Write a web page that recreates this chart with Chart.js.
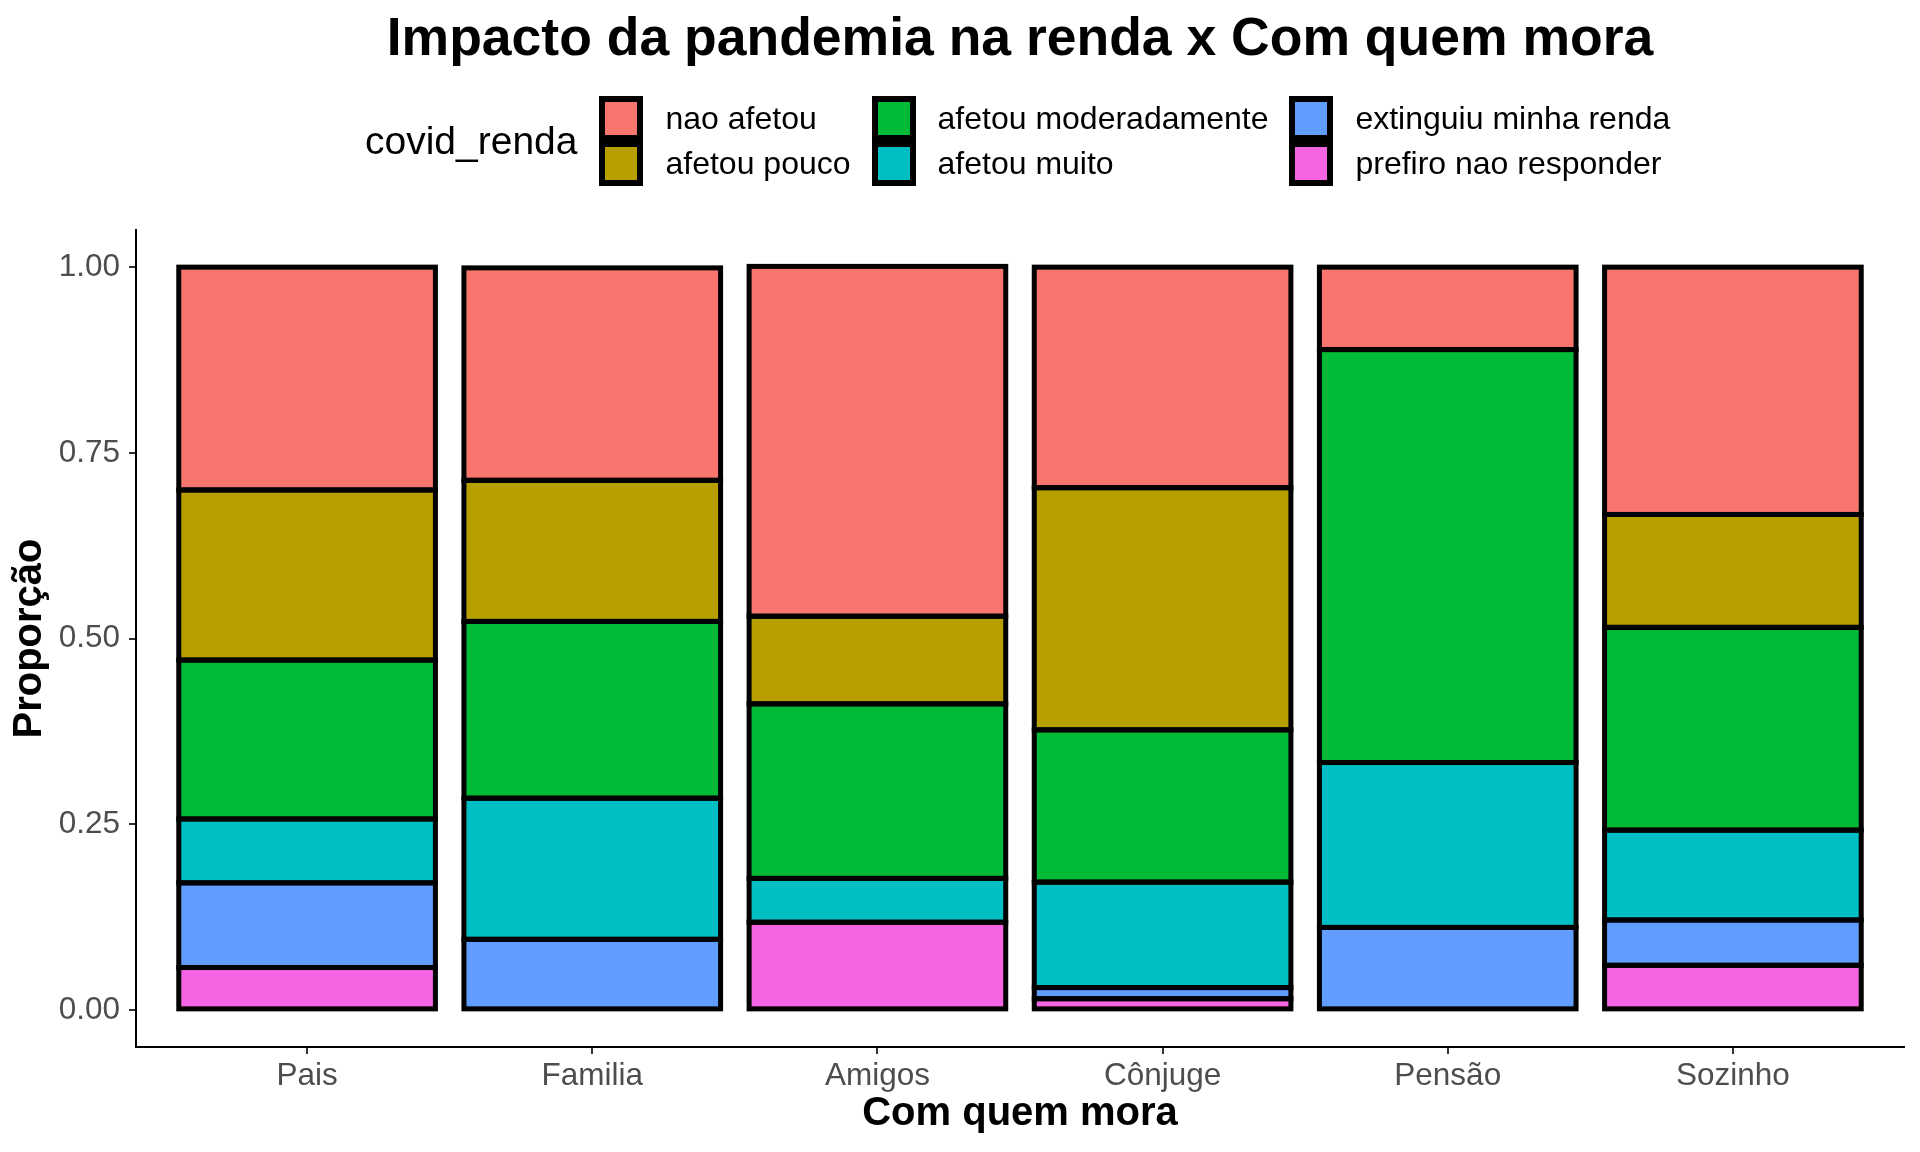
<!DOCTYPE html>
<html>
<head>
<meta charset="utf-8">
<script src="https://cdn.jsdelivr.net/npm/chart.js@4.4.1/dist/chart.umd.min.js"></script>
<style>
  body { margin: 0; background: #fff; }
  #wrap { position: relative; width: 1920px; height: 1152px; font-family: 'Liberation Sans', Arial, sans-serif; }
  #titulo { position: absolute; left: 136px; width: 1768px; top: 5px; text-align: center; font-size: 53.5px; font-weight: bold; line-height: 64px; color: #000; }
  #legenda { position: absolute; left: 365px; top: 96px; display: flex; align-items: center; }
  #legenda .tit { font-size: 39px; margin-right: 22px; color: #000; }
  #legenda .itens { display: grid; grid-template-rows: 45px 45px; grid-auto-flow: column; column-gap: 21px; }
  #legenda .item { display: flex; align-items: center; }
  #legenda .chave { width: 44px; height: 45px; box-sizing: border-box; border: 6px solid #000; }
  #legenda .rotulo { font-size: 32px; margin-left: 22px; color: #000; white-space: nowrap; }
</style>
</head>
<body>
<div id="wrap">
  <canvas id="grafico" width="1920" height="1152"></canvas>
  <div id="titulo">Impacto da pandemia na renda x Com quem mora</div>
  <div id="legenda">
    <div class="tit">covid_renda</div>
    <div class="itens" id="itens"></div>
  </div>
</div>
<script>
// === DADOS ===
const categorias = ['Pais', 'Familia', 'Amigos', 'Cônjuge', 'Pensão', 'Sozinho'];
const niveis = ['nao afetou', 'afetou pouco', 'afetou moderadamente', 'afetou muito', 'extinguiu minha renda', 'prefiro nao responder'];
const cores = ['#F8766D', '#B79F00', '#00BA38', '#00BFC4', '#619CFF', '#F564E3'];

const naoAfetou      = [0.300, 0.286, 0.471, 0.297, 0.111, 0.333];
const afetouPouco    = [0.229, 0.190, 0.118, 0.326, 0,     0.152];
const afetouModerado = [0.214, 0.238, 0.235, 0.205, 0.556, 0.273];
const afetouMuito    = [0.086, 0.190, 0.059, 0.142, 0.222, 0.121];
const extinguiu      = [0.114, 0.095, 0,     0.015, 0.111, 0.061];
const prefiroNao     = [0.057, 0,     0.118, 0.015, 0,     0.060];

const yTicks = [0, 0.25, 0.5, 0.75, 1];

const series = [naoAfetou, afetouPouco, afetouModerado, afetouMuito, extinguiu, prefiroNao];

// === LEGENDA (HTML, ordem por coluna como no ggplot) ===
const itens = document.getElementById('itens');
niveis.forEach((nome, i) => {
  const item = document.createElement('div');
  item.className = 'item';
  item.innerHTML = `<div class="chave" style="background:${cores[i]}"></div><div class="rotulo">${nome}</div>`;
  itens.appendChild(item);
});

// contorno preto centrado nas bordas, como geom_bar(color = 'black')
const contorno = {
  id: 'contorno',
  afterDatasetsDraw(chart) {
    const ctx = chart.ctx;
    ctx.save();
    ctx.strokeStyle = '#000';
    ctx.lineWidth = 5;
    chart.data.datasets.forEach((ds, d) => {
      chart.getDatasetMeta(d).data.forEach(el => {
        const p = el.getProps(['x', 'y', 'base', 'width'], true);
        const h = Math.abs(p.base - p.y);
        if (h < 0.5) return;
        ctx.strokeRect(p.x - p.width / 2, Math.min(p.y, p.base), p.width, h);
      });
    });
    ctx.restore();
  }
};

Chart.defaults.font.family = "'Liberation Sans', Arial, sans-serif";

// empilha de baixo pra cima: ultimo nivel embaixo
const datasets = niveis.map((nome, i) => ({
  label: nome,
  data: series[i].map((v, j) => ({ x: j, y: v })),
  backgroundColor: cores[i],
  borderWidth: 0
})).reverse();

new Chart(document.getElementById('grafico'), {
  type: 'bar',
  data: { datasets },
  plugins: [contorno],
  options: {
    responsive: false,
    animation: false,
    layout: { padding: { top: 230, right: 16, bottom: 0, left: 0 } },
    datasets: { bar: { categoryPercentage: 1, barPercentage: 0.9 } },
    plugins: {
      legend: { display: false },
      tooltip: { enabled: false },
      title: { display: false }
    },
    scales: {
      x: {
        type: 'linear',
        stacked: true,
        offset: false,
        min: -0.6,
        max: 5.6,
        afterBuildTicks: (axis) => { axis.ticks = categorias.map((_, i) => ({ value: i })); },
        afterFit: (axis) => { axis.height = 105; },
        ticks: {
          callback: (v) => categorias[v],
          color: '#4D4D4D',
          font: { size: 31.5 },
          padding: 3,
          maxRotation: 0
        },
        grid: { offset: false, drawOnChartArea: false, drawTicks: true, tickLength: 7, color: '#333', lineWidth: 2 },
        border: { display: true, color: '#000', width: 2 },
        title: { display: true, text: 'Com quem mora', color: '#000', font: { size: 40, weight: 'bold' }, padding: { top: 0, bottom: 14 } }
      },
      y: {
        stacked: true,
        min: -0.05,
        max: 1.05,
        afterBuildTicks: (axis) => { axis.ticks = yTicks.map(v => ({ value: v })); },
        afterFit: (axis) => { axis.width = 136; },
        ticks: {
          callback: (v) => v.toFixed(2),
          color: '#4D4D4D',
          font: { size: 31.5 },
          padding: 9
        },
        grid: { drawOnChartArea: false, drawTicks: true, tickLength: 7, color: '#333', lineWidth: 2 },
        border: { display: true, color: '#000', width: 2 },
        title: { display: true, text: 'Proporção', color: '#000', font: { size: 40, weight: 'bold' }, padding: { top: 6, bottom: 0 } }
      }
    }
  }
});
</script>
</body>
</html>
